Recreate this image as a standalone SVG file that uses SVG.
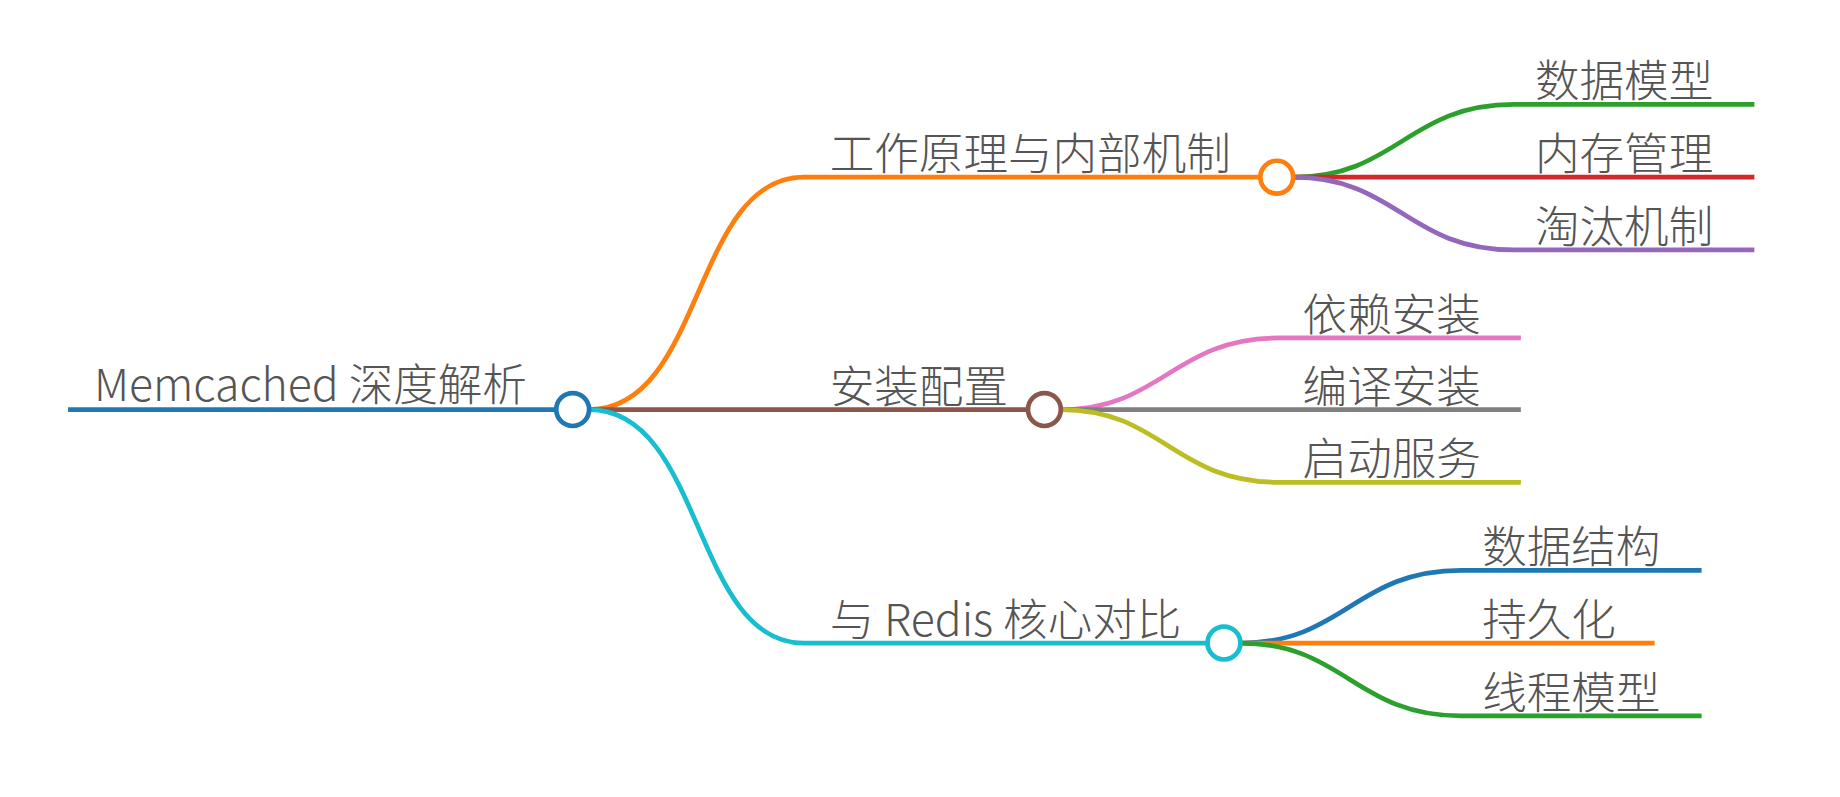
<svg xmlns="http://www.w3.org/2000/svg" width="1840" height="797" viewBox="0 0 1840 797">
<style>
text{font-family:"Source Han Sans SC","Noto Sans CJK SC","Noto Sans",sans-serif;font-size:38px;fill:#555;font-weight:300}
path,line{fill:none;stroke-width:4}
circle{fill:#fff;stroke-width:4}
</style>
<rect width="1840" height="797" fill="#fff"/>
<g transform="scale(1.1735)">
<g id="connectors">
<line x1="58" y1="349" x2="474" y2="349" stroke="#1f77b4"/>
<path d="M502,349 C600,349 590,151 685,151 L1074,151" stroke="#ff7f0e"/>
<path d="M502,349 L876,349" stroke="#8c564b"/>
<path d="M502,349 C600,349 590,548 685,548 L1029,548" stroke="#17becf"/>
<path d="M1102,151 C1190,151 1200,89 1290,89 L1495,89" stroke="#2ca02c"/>
<path d="M1102,151 L1495,151" stroke="#d62728"/>
<path d="M1102,151 C1190,151 1200,213 1290,213 L1495,213" stroke="#9467bd"/>
<path d="M904,349 C990,349 1000,288 1090,288 L1296,288" stroke="#e377c2"/>
<path d="M904,349 L1296,349" stroke="#7f7f7f"/>
<path d="M904,349 C990,349 1000,411 1090,411 L1296,411" stroke="#bcbd22"/>
<path d="M1057,548 C1145,548 1155,486 1245,486 L1450,486" stroke="#1f77b4"/>
<path d="M1057,548 L1410,548" stroke="#ff7f0e"/>
<path d="M1057,548 C1145,548 1155,610 1245,610 L1450,610" stroke="#2ca02c"/>
</g>
<g id="root"><text x="80" y="342">Memcached 深度解析</text><circle cx="488" cy="349" r="14" stroke="#1f77b4"/></g>
<g id="n1"><text x="707" y="145">工作原理与内部机制</text><circle cx="1088" cy="151" r="14" stroke="#ff7f0e"/></g>
<g id="n2"><text x="707" y="343">安装配置</text><circle cx="890" cy="349" r="14" stroke="#8c564b"/></g>
<g id="n3"><text x="707" y="542">与 Redis 核心对比</text><circle cx="1043" cy="548" r="14" stroke="#17becf"/></g>
<g id="n11"><text x="1308" y="83">数据模型</text></g>
<g id="n12"><text x="1308" y="145">内存管理</text></g>
<g id="n13"><text x="1308" y="207">淘汰机制</text></g>
<g id="n21"><text x="1110" y="282">依赖安装</text></g>
<g id="n22"><text x="1110" y="343">编译安装</text></g>
<g id="n23"><text x="1110" y="405">启动服务</text></g>
<g id="n31"><text x="1263" y="480">数据结构</text></g>
<g id="n32"><text x="1263" y="542">持久化</text></g>
<g id="n33"><text x="1263" y="604">线程模型</text></g>
</g>
</svg>
